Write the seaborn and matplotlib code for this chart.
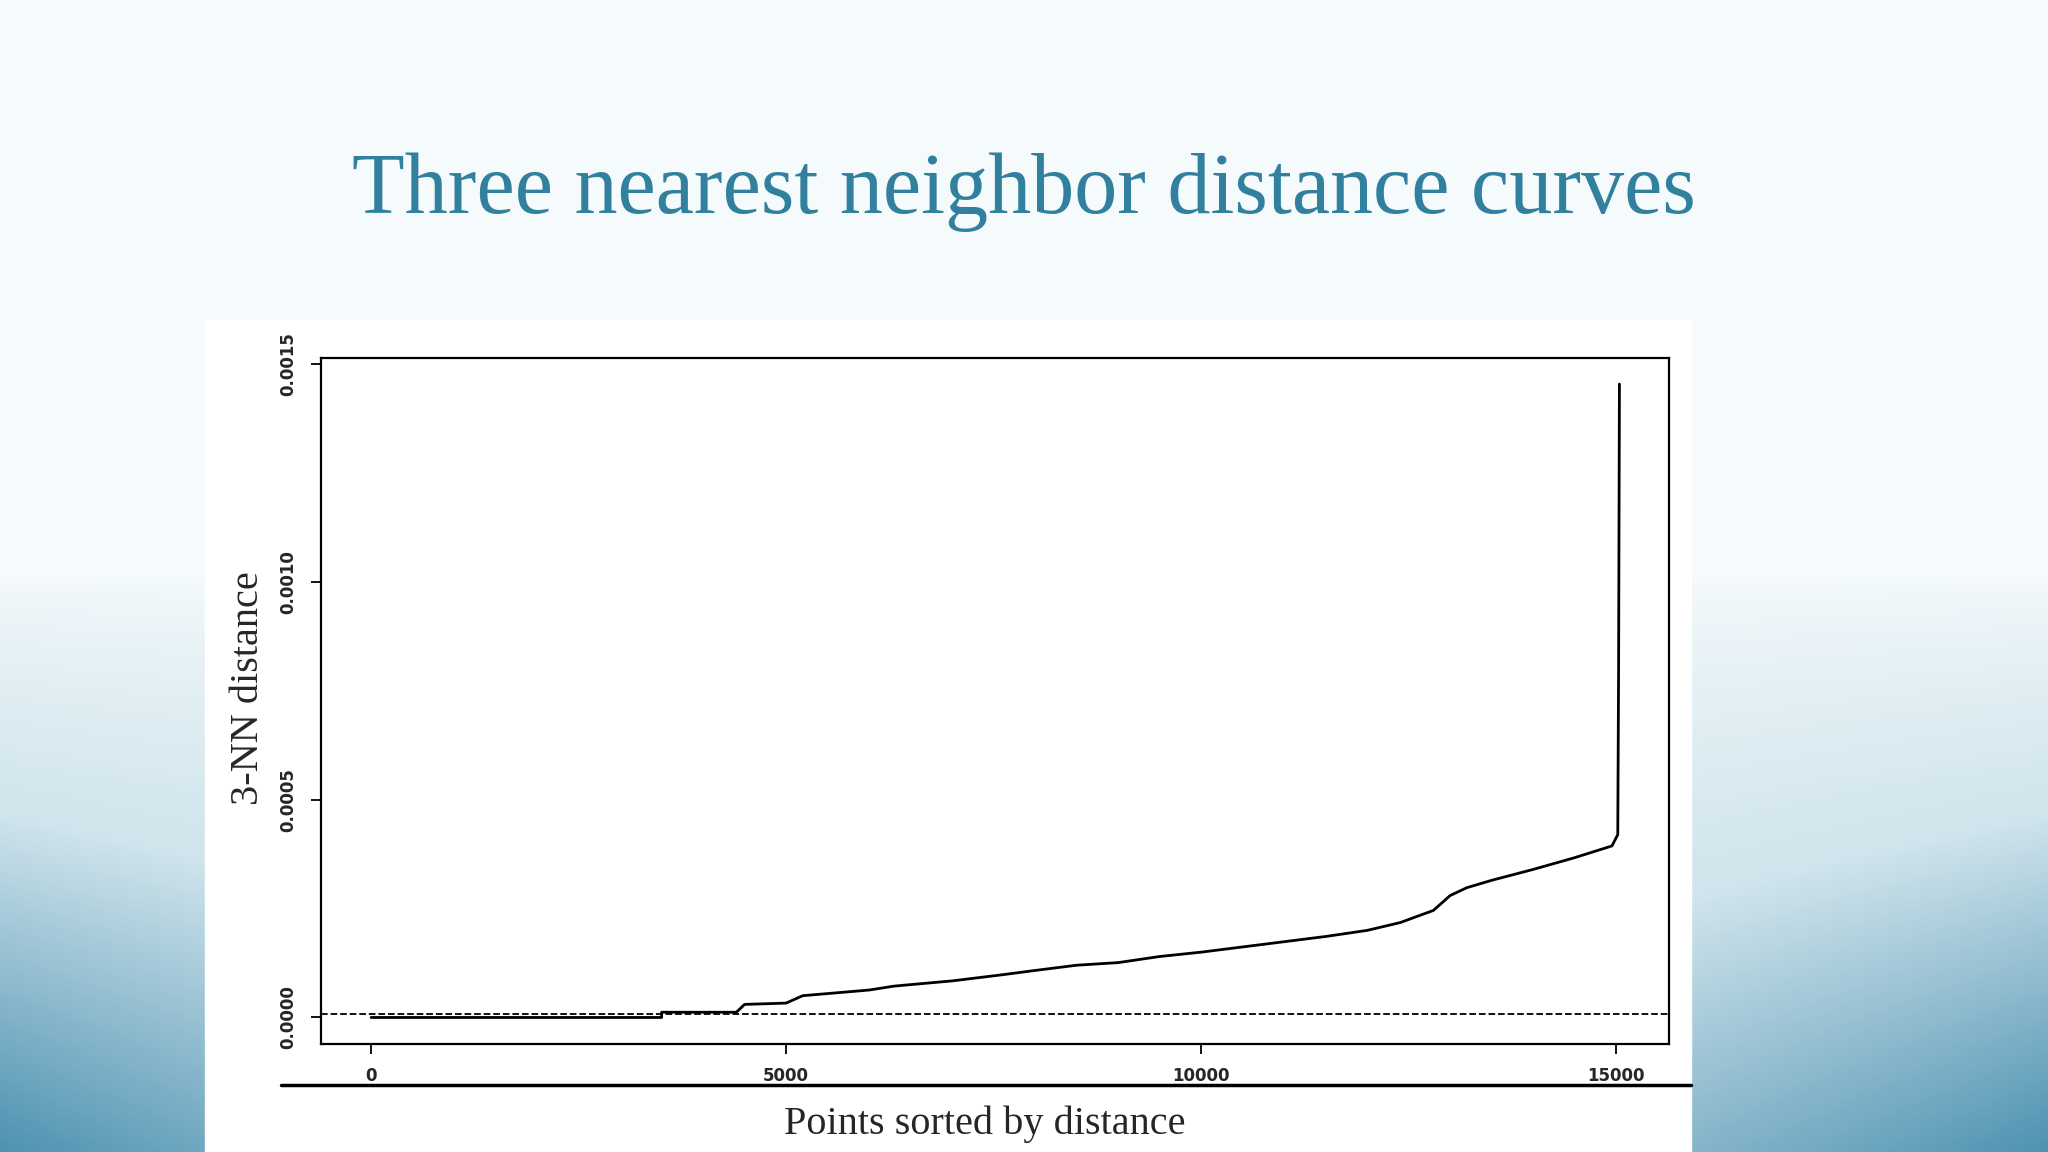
import numpy as np
import pandas as pd
import matplotlib
matplotlib.use("Agg")
import matplotlib.pyplot as plt
import seaborn as sns
from matplotlib.colors import LinearSegmentedColormap

# sorted 3-NN distance curve
rank = [0, 3500, 3500, 4400, 4500, 5000, 5200, 6000, 6300, 7000, 7600, 8000, 8500, 9000,
        9500, 10000, 10500, 11000, 11500, 12000, 12400, 12800, 13000, 13200, 13500, 14000,
        14500, 14800, 14950, 15020, 15030, 15040]
dist = [0.0, 0.0, 0.000012, 0.000012, 0.000030, 0.000033, 0.000050, 0.000063, 0.000072,
        0.000084, 0.000098, 0.000108, 0.000120, 0.000126, 0.000140, 0.00015, 0.000162,
        0.000174, 0.000186, 0.0002, 0.000218, 0.000246, 0.00028, 0.000298, 0.000315,
        0.00034, 0.000367, 0.000385, 0.000394, 0.00042, 0.00080, 0.001455]
eps = 0.000009
xticks = [0, 5000, 10000, 15000]
yticks = [0.0, 0.0005, 0.0010, 0.0015]

sns.set_theme(style="white")
plt.rcParams['font.family'] = ['DejaVu Sans']
W, H = 1568, 882
fig = plt.figure(figsize=(20.48, 11.52), dpi=100)

# slide background gradient
bg = fig.add_axes([0, 0, 1, 1])
yy = np.linspace(0, 1, 300)[:, None]
xx = np.linspace(-1, 1, 400)[None, :]
g = np.clip((yy - 0.5) / 0.5, 0, 1) ** 0.8 * (0.55 + 0.45 * np.abs(xx) ** 1.5)
cmap = LinearSegmentedColormap.from_list("bg", ["#f5fafc", "#cfe4ec", "#4f93b2"])
bg.imshow(g, cmap=cmap, aspect="auto", extent=[0, 1, 0, 1], origin="upper", vmin=0, vmax=1)
bg.add_patch(plt.Rectangle((157 / W, 0), (1295 - 157) / W, (882 - 245) / H, color="white"))
bg.set_xlim(0, 1); bg.set_ylim(0, 1); bg.axis("off")

fig.text(784 / W, 1 - 147 / H, "Three nearest neighbor distance curves", ha="center", va="center",
         fontsize=62, color="#31809e", family="Liberation Serif")

ax = fig.add_axes([246 / W, 1 - 799 / H, (1278 - 246) / W, (799 - 274) / H])
df = pd.DataFrame({"rank": rank, "dist": dist})
sns.lineplot(data=df, x="rank", y="dist", ax=ax, color="black", linewidth=2, estimator=None)
ax.axhline(eps, color="black", linestyle="--", linewidth=1.3)
ax.set_xlim(-600, 15640)
ax.set_ylim(-0.00006, 0.001515)
ax.set_xticks(xticks)
ax.set_xticklabels([str(t) for t in xticks], fontsize=12, fontweight="bold")
ax.set_yticks(yticks)
ax.set_yticklabels([f"{t:.4f}" for t in yticks], fontsize=12, fontweight="bold",
                   rotation=90, va="center")
ax.tick_params(direction="out", length=7, width=1.3, color="black", left=True, bottom=True, pad=10)
for s in ax.spines.values():
    s.set_color("black"); s.set_linewidth(1.6)
ax.set_xlabel(""); ax.set_ylabel("")

bg.plot([215 / W, 1295 / W], [1 - 831 / H] * 2, color="black", linewidth=2.5)
fig.text(754 / W, 1 - 861 / H, "Points sorted by distance", ha="center", va="center",
         fontsize=29, family="Liberation Serif")
fig.text(190 / W, 1 - 527 / H, "3-NN distance", ha="center", va="center", rotation=90,
         fontsize=29, family="Liberation Serif")

fig.savefig("out.png", dpi=100)
